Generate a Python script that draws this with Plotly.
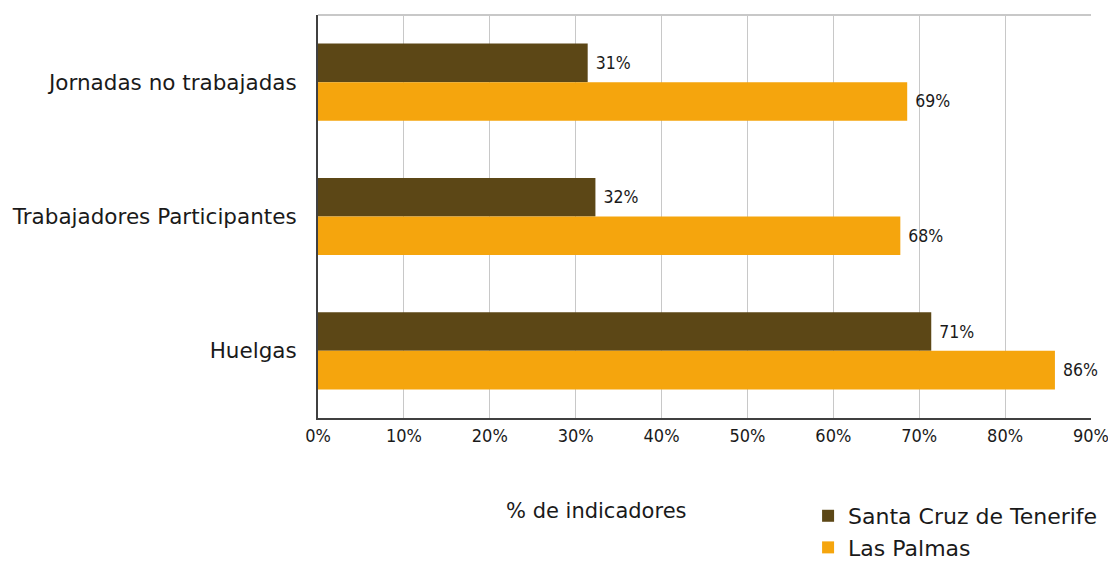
import plotly.graph_objects as go

categories = ["Jornadas no trabajadas", "Trabajadores Participantes", "Huelgas"]
santa_cruz = [0.314, 0.323, 0.714]
las_palmas = [0.686, 0.678, 0.858]
series_names = ["Santa Cruz de Tenerife", "Las Palmas"]
x_ticks = [0, 0.1, 0.2, 0.3, 0.4, 0.5, 0.6, 0.7, 0.8, 0.9]
x_title = "% de indicadores"

C_SC = "#5C4716"
C_LP = "#F5A50D"
MAIN_FONT = "DejaVu Sans"
NUM_FONT = "DejaVu Sans Condensed, Liberation Sans"

fig = go.Figure()
for i, (name, vals, col) in enumerate([(series_names[0], santa_cruz, C_SC), (series_names[1], las_palmas, C_LP)]):
    fig.add_trace(go.Bar(
        y=categories, x=vals, name=name, orientation="h",
        legendgroup=f"g{i}",
        marker=dict(color=col, line=dict(width=0)),
        texttemplate=" %{x:.0%}", textposition="outside",
        textfont=dict(family=NUM_FONT, size=17.5, color="#1a1a1a"),
        cliponaxis=False,
    ))

fig.update_layout(
    width=1108, height=555,
    margin=dict(l=310, r=25, t=7, b=145, autoexpand=False),
    paper_bgcolor="white", plot_bgcolor="white",
    barmode="group", bargap=0.425, bargroupgap=0,
    showlegend=True,
    legend=dict(x=0.634, y=-0.191, xanchor="left", yanchor="top",
                font=dict(family=MAIN_FONT, size=22, color="#1a1a1a"),
                traceorder="normal", itemwidth=30, tracegroupgap=6),
    xaxis=dict(range=[0, 0.9], tickvals=x_ticks, tickformat=".0%",
               showgrid=True, gridcolor="#c8c8c8", gridwidth=1,
               showline=True, linecolor="#404040", linewidth=2,
               ticks="", zeroline=False, ticklabeloverflow="allow",
               tickfont=dict(family=NUM_FONT, size=18, color="#1a1a1a")),
    yaxis=dict(autorange="reversed", showline=True, linecolor="#404040", linewidth=2,
               ticks="", ticklabelstandoff=15,
               tickfont=dict(family=MAIN_FONT, size=21.5, color="#1a1a1a")),
    annotations=[dict(text=x_title, xref="paper", yref="paper", x=0.36, y=-0.231,
                      xanchor="center", yanchor="middle", showarrow=False,
                      font=dict(family=MAIN_FONT, size=21, color="#1a1a1a"))],
    shapes=[dict(type="line", xref="paper", yref="paper", x0=0, x1=1, y0=1, y1=1,
                 line=dict(color="#c8c8c8", width=2))],
)

fig.write_html("out.html")
